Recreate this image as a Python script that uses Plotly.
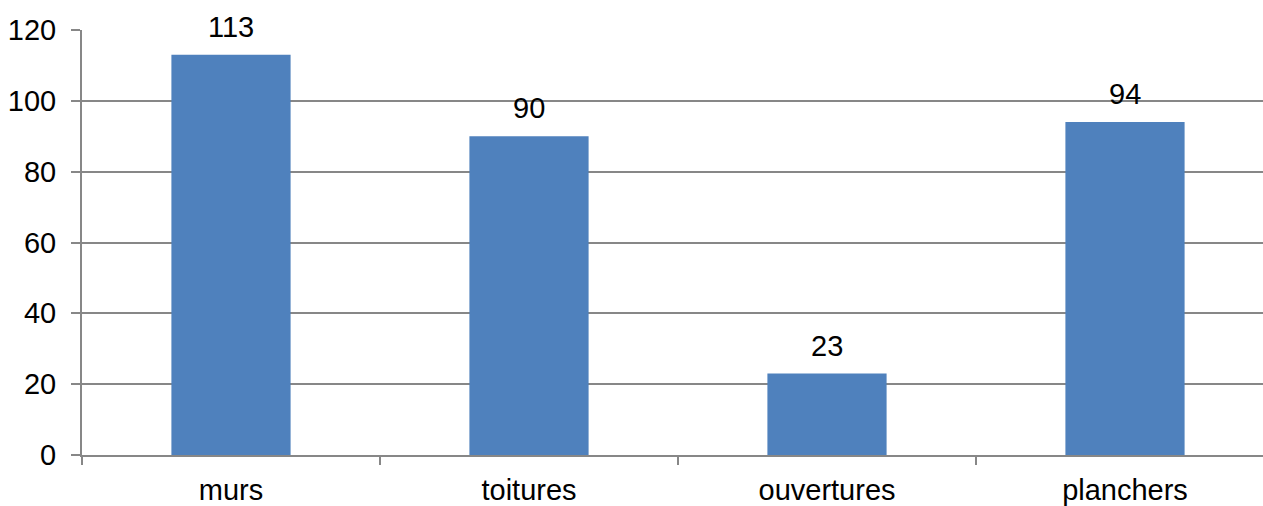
import plotly.graph_objects as go

categories = ["murs", "toitures", "ouvertures", "planchers"]
values = [113, 90, 23, 94]
y_ticks = [0, 20, 40, 60, 80, 100, 120]

bar_color = "#4F81BD"
grid_color = "#878787"
font_family = "Liberation Sans, Arial, sans-serif"
fs = 29

fig = go.Figure()
fig.add_trace(go.Bar(
    x=categories,
    y=values,
    width=0.4,
    marker=dict(color=bar_color, line=dict(width=0)),
    hoverinfo="x+y",
))

for c, v in zip(categories, values):
    fig.add_annotation(
        x=c, y=v, text=str(v), showarrow=False,
        yanchor="bottom", yshift=10,
        font=dict(family=font_family, size=fs, color="#000000"),
    )

fig.update_layout(
    width=1263, height=506,
    margin=dict(l=82, r=0, t=29.5, b=49, pad=0),
    paper_bgcolor="white", plot_bgcolor="white",
    showlegend=False,
    font=dict(family=font_family, size=fs, color="#000000"),
    bargap=0.6,
)

fig.update_xaxes(
    type="category",
    range=[-0.5, 3.5 - 11 / 298],
    showline=True, linecolor=grid_color, linewidth=2,
    ticks="outside", tickson="boundaries", ticklen=8, tickwidth=2, tickcolor=grid_color,
    showgrid=False,
    ticklabelstandoff=8,
    tickfont=dict(family=font_family, size=fs, color="#000000"),
)
fig.update_yaxes(
    range=[0, 120],
    tickvals=y_ticks,
    showline=True, linecolor=grid_color, linewidth=2,
    ticks="outside", ticklen=9, tickwidth=2, tickcolor=grid_color,
    showgrid=True, gridcolor=grid_color, gridwidth=2,
    zeroline=False,
    ticklabelstandoff=9,
    tickfont=dict(family=font_family, size=fs, color="#000000"),
)

fig.write_html(
    "out.html",
    config={"displayModeBar": False},
    post_script="document.body.style.margin='0';document.body.style.overflow='hidden';",
)
